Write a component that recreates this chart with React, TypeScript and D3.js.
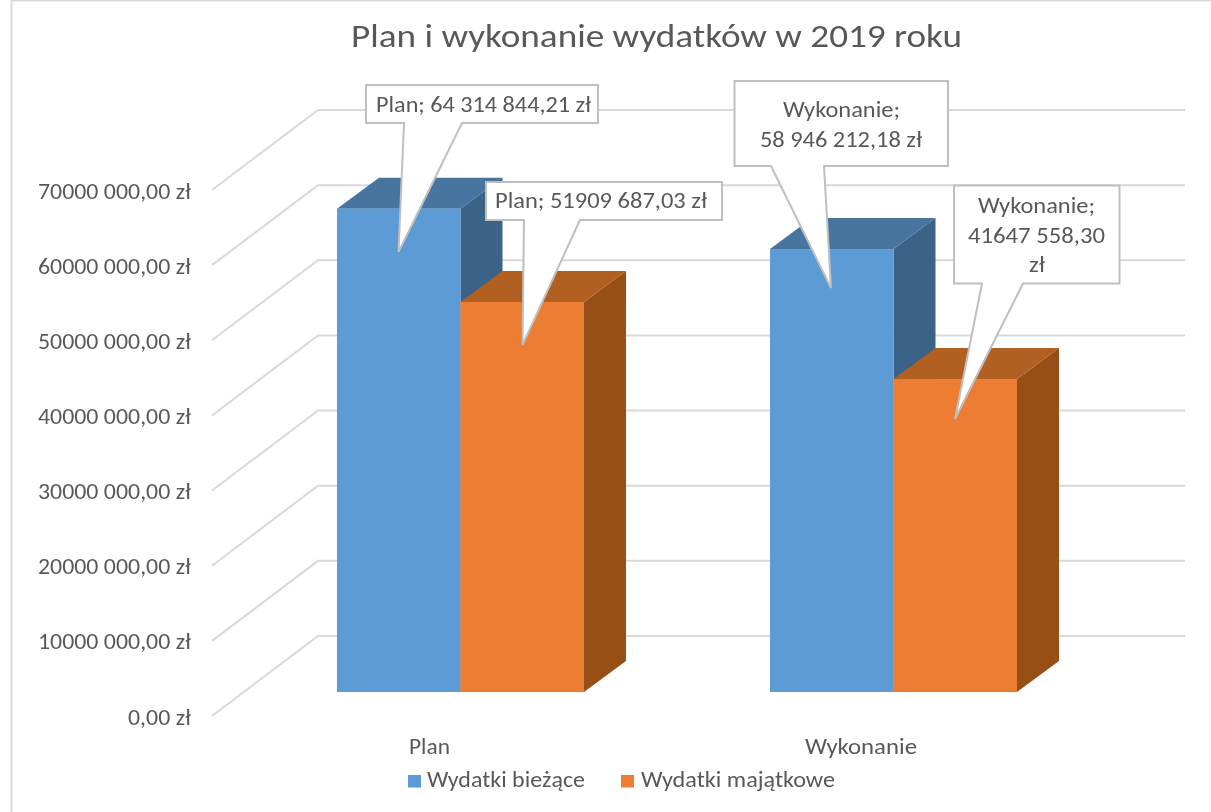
import React from "react";
import * as d3 from "d3";

const title = "Plan i wykonanie wydatków w 2019 roku";
const categories = ["Plan", "Wykonanie"];
const seriesNames = ["Wydatki bieżące", "Wydatki majątkowe"];
const wydatkiBiezace = [64314844.21, 58946212.18];
const wydatkiMajatkowe = [51909687.03, 41647558.3];
const tickValues = [0, 10000000, 20000000, 30000000, 40000000, 50000000, 60000000, 70000000];
const tickLabels = ["0,00 zł", "10000 000,00 zł", "20000 000,00 zł", "30000 000,00 zł", "40000 000,00 zł", "50000 000,00 zł", "60000 000,00 zł", "70000 000,00 zł"];
const calloutLines = [
  ["Plan; 64 314 844,21 zł"],
  ["Plan; 51909 687,03 zł"],
  ["Wykonanie;", "58 946 212,18 zł"],
  ["Wykonanie;", "41647 558,30", "zł"],
];

const FONT = "Carlito, Calibri, Lato, 'Open Sans', sans-serif";
const GRID = "#d9d9d9";
const TEXT = "#595959";
const faces = [
  { front: "#5b9bd5", top: "#4674a0", side: "#3a6488" },
  { front: "#ed7d31", top: "#b25e20", side: "#975019" },
];

// 3D layout
const yBars = d3.scaleLinear().domain([0, 70000000]).range([692, 166]);
const yWall = d3.scaleLinear().domain([0, 70000000]).range([636, 110]);
const yAxisLab = d3.scaleLinear().domain([0, 70000000]).range([716, 190]);
const xGroup = d3.scaleBand().domain(categories).range([337, 1017]).paddingInner(0.4296).paddingOuter(0);
const xSeries = d3.scaleBand().domain(seriesNames).range([0, xGroup.bandwidth()]);
const DX = 42;
const DY = -31;

// callout boxes: rectangle, pointer base start, tip, pointer base end
const calloutBoxes = [
  { x: 366, y: 85, w: 232, h: 38, a: 404, tx: 398.5, ty: 252, b: 462 },
  { x: 486, y: 182, w: 236, h: 38, a: 524, tx: 522.5, ty: 345, b: 580 },
  { x: 734.5, y: 81, w: 213.5, h: 85, a: 771, tx: 831, ty: 288, b: 824 },
  { x: 954, y: 185.5, w: 165.5, h: 98, a: 982, tx: 955, ty: 419, b: 1023 },
];
// text placement per callout line: left x, width, baseline
const calloutText = [
  [{ x: 376, w: 215, y: 112 }],
  [{ x: 495, w: 212, y: 208 }],
  [{ x: 783, w: 117, y: 117 }, { x: 760, w: 162, y: 147 }],
  [{ x: 978, w: 117, y: 213 }, { x: 968, w: 137, y: 243 }, { x: 1029, w: 16, y: 272 }],
];

function calloutPath(c: (typeof calloutBoxes)[number]) {
  const p = d3.path();
  const bottom = c.y + c.h;
  p.moveTo(c.x, c.y);
  p.lineTo(c.x + c.w, c.y);
  p.lineTo(c.x + c.w, bottom);
  p.lineTo(c.b, bottom);
  p.lineTo(c.tx, c.ty);
  p.lineTo(c.a, bottom);
  p.lineTo(c.x, bottom);
  p.closePath();
  return p.toString();
}

function poly(pts: [number, number][]) {
  return d3.line()(pts) + "Z";
}

const fit = { lengthAdjust: "spacingAndGlyphs" as const };
const tickWidth = (label: string) => (label.length < 10 ? 63 : 153);

export default function App() {
  const seriesValues = [wydatkiBiezace, wydatkiMajatkowe];
  return (
    <svg width={1211} height={812} viewBox="0 0 1211 812" style={{ position: "absolute", left: 0, top: 0, fontFamily: FONT, background: "#fff" }}>
      <defs>
        <filter id="soft" x="0" y="0" width="100%" height="100%">
          <feGaussianBlur stdDeviation={0.45} />
        </filter>
      </defs>
      <g filter="url(#soft)">
        <rect width={1211} height={812} fill="#fff" />
        <path d="M11.5,812 V0.5 H1211" fill="none" stroke={GRID} strokeWidth={2} />
        <text x={351} y={47} fontSize={33} fill={TEXT} textLength={611} {...fit}>{title}</text>

        {tickValues.map((t, i) => (
          <g key={t}>
            <polyline
              points={`212,${yAxisLab(t)} 318,${yWall(t)} 1185,${yWall(t)}`}
              fill="none"
              stroke={GRID}
              strokeWidth={2}
            />
            <text x={191 - tickWidth(tickLabels[i])} y={yAxisLab(t) + 8.5} fontSize={21.5} fill={TEXT} textLength={tickWidth(tickLabels[i])} {...fit}>{tickLabels[i]}</text>
          </g>
        ))}

        {categories.map((cat, ci) =>
          seriesNames.map((s, si) => {
            const x0 = (xGroup(cat) as number) + (xSeries(s) as number);
            const x1 = x0 + xSeries.bandwidth();
            const y0 = yBars(0);
            const y1 = yBars(seriesValues[si][ci]);
            const f = faces[si];
            return (
              <g key={cat + s}>
                <path d={poly([[x1, y0], [x1 + DX, y0 + DY], [x1 + DX, y1 + DY], [x1, y1]])} fill={f.side} />
                <path d={poly([[x0, y1], [x0 + DX, y1 + DY], [x1 + DX, y1 + DY], [x1, y1]])} fill={f.top} />
                <rect x={x0} y={y1} width={x1 - x0} height={y0 - y1} fill={f.front} />
              </g>
            );
          })
        )}

        <text x={409} y={754} fontSize={21.5} fill={TEXT} textLength={41} {...fit}>{categories[0]}</text>
        <text x={805} y={754} fontSize={21.5} fill={TEXT} textLength={112} {...fit}>{categories[1]}</text>

        {calloutBoxes.map((c, i) => (
          <g key={i}>
            <path d={calloutPath(c)} fill="#fff" stroke="#bfbfbf" strokeWidth={2} />
            {calloutLines[i].map((l, j) => {
              const t = calloutText[i][j];
              return (
                <text key={j} x={t.x} y={t.y} fontSize={21.5} fill={TEXT} textLength={t.w} {...fit}>{l}</text>
              );
            })}
          </g>
        ))}

        <rect x={408} y={775} width={13} height={12.5} fill={faces[0].front} />
        <text x={427} y={787} fontSize={21.5} fill={TEXT} textLength={158} {...fit}>{seriesNames[0]}</text>
        <rect x={621} y={775} width={13} height={12.5} fill={faces[1].front} />
        <text x={641} y={787} fontSize={21.5} fill={TEXT} textLength={194} {...fit}>{seriesNames[1]}</text>
      </g>
    </svg>
  );
}
